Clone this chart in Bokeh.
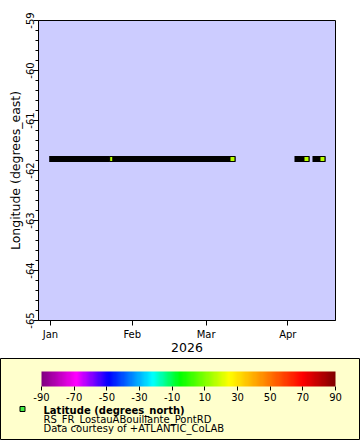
import numpy as np
import pandas as pd
from bokeh.plotting import figure
from bokeh.layouts import column
from bokeh.models import (Range1d, FixedTicker, ColumnDataSource,
                          LinearColorMapper, ColorBar)
from bokeh.transform import linear_cmap
from bokeh.core.properties import value
from bokeh.embed import file_html
from bokeh.resources import INLINE

FONT = "DejaVu Sans"

# ---- data ----
run_start = ["2026-01-01 15:30", "2026-01-25 13:00", "2026-04-04 16:00", "2026-04-11 11:45"]
run_end = ["2026-01-24 09:40", "2026-03-11 00:30", "2026-04-08 02:00", "2026-04-14 03:30"]
run_lon = [-61.77, -61.77, -61.77, -61.77]
run_lat = [16.2, 16.2, 16.2, 16.2]

x_start = "2025-12-27 10:50"
x_end = "2026-04-19 02:00"
y_lo, y_hi = -65, -59
y_ticks = [-65, -64, -63, -62, -61, -60, -59]
y_tick_labels = ["-65", "-64", "-63", "-62", "-61", "-60", "-59"]
y_minor = [-64.8, -64.6, -64.4, -64.2, -63.8, -63.6, -63.4, -63.2, -62.8, -62.6, -62.4, -62.2,
           -61.8, -61.6, -61.4, -61.2, -60.8, -60.6, -60.4, -60.2, -59.8, -59.6, -59.4, -59.2]
month_ticks = ["2026-01-01", "2026-02-01", "2026-03-01", "2026-04-01"]
month_labels = ["Jan", "Feb", "Mar", "Apr"]
x_title = "2026"
y_title = "Longitude (degrees_east)"
cbar_low, cbar_high = -90, 90
cbar_ticks = [-90, -70, -50, -30, -10, 10, 30, 50, 70, 90]
cbar_labels = ["-90", "-70", "-50", "-30", "-10", "10", "30", "50", "70", "90"]
legend_title = "Latitude (degrees_north)"
legend_lines = ["RS_FR_LostauABouillante_PontRD", "Data courtesy of +ATLANTIC_CoLAB"]

# ---- palette (Rainbow-like colour scale) ----
anchor_v = [-90, -69, -49, -22, -5, 25, 48, 70, 90]
anchor_c = ["#800080", "#ff00ff", "#0000ff", "#00ffff", "#00ff00", "#ffff00", "#ff8000", "#ff0000", "#800000"]
def _rgb(h):
    return [int(h[i:i + 2], 16) for i in (1, 3, 5)]
_ar = np.array([_rgb(c) for c in anchor_c], dtype=float)
_vs = np.linspace(cbar_low, cbar_high, 256)
palette = ["#%02x%02x%02x" % tuple(int(round(np.interp(v, anchor_v, _ar[:, k]))) for k in range(3)) for v in _vs]

# ---- main figure ----
W = 360
MAIN_H = 358
p = figure(width=W, height=MAIN_H, x_axis_type="datetime",
           x_range=Range1d(pd.Timestamp(x_start), pd.Timestamp(x_end)),
           y_range=Range1d(y_lo, y_hi),
           output_backend="svg", toolbar_location=None,
           min_border_left=38, min_border_right=25, min_border_top=20, min_border_bottom=38)
p.frame_align = False
p.background_fill_color = "#ccccff"
p.border_fill_color = "white"
p.outline_line_color = "black"
p.outline_line_width = 1
p.grid.visible = False

tick_ms = [float((pd.Timestamp(t) - pd.Timestamp("1970-01-01")) / pd.Timedelta(milliseconds=1)) for t in month_ticks]
p.xaxis.ticker = FixedTicker(ticks=tick_ms, minor_ticks=[])
p.xaxis.major_label_overrides = {t: l for t, l in zip(tick_ms, month_labels)}
p.yaxis.ticker = FixedTicker(ticks=y_ticks, minor_ticks=y_minor)
p.yaxis.major_label_overrides = {t: l for t, l in zip(y_ticks, y_tick_labels)}
p.yaxis.major_label_orientation = "vertical"

for ax in (p.xaxis[0], p.yaxis[0]):
    ax.axis_line_color = "black"
    ax.major_tick_line_color = "black"
    ax.minor_tick_line_color = "black"
    ax.major_tick_in = 0
    ax.major_tick_out = 5
    ax.minor_tick_in = 0
    ax.minor_tick_out = 3
    ax.major_label_text_font = FONT
    ax.major_label_text_font_size = "10px"
    ax.major_label_text_color = "black"
    ax.axis_label_text_font = FONT
    ax.axis_label_text_font_size = "12.5px"
    ax.axis_label_text_font_style = "normal"
    ax.axis_label_text_color = "black"
p.xaxis.minor_tick_line_color = None
p.xaxis.major_label_standoff = 3
p.xaxis.axis_label_standoff = 0
p.yaxis.major_label_standoff = 0
p.yaxis.axis_label_standoff = 0
p.xaxis.axis_label = x_title
p.yaxis.axis_label = y_title

lat_cmap = linear_cmap("lat", palette, cbar_low, cbar_high)
for s, e, lo, la in zip(run_start, run_end, run_lon, run_lat):
    src = ColumnDataSource(dict(x0=[pd.Timestamp(s)], x1=[pd.Timestamp(e)], y=[lo], lat=[la]))
    p.segment(x0="x0", y0="y", x1="x1", y1="y", source=src,
              line_color="black", line_width=6, line_cap="square")
    p.scatter(x="x1", y="y", source=src, marker="square", size=5,
              fill_color=lat_cmap, line_color="black", line_width=1)

# ---- legend panel ----
LH = 440 - MAIN_H
lg = figure(width=W, height=LH, x_range=Range1d(0, W), y_range=Range1d(LH, 0),
            x_axis_location=None, y_axis_location=None,
            output_backend="svg", toolbar_location=None, min_border=0)
lg.frame_align = False
lg.grid.visible = False
lg.background_fill_color = "#ffffcc"
lg.border_fill_color = "white"
lg.outline_line_color = "black"
lg.outline_line_width = 1

mapper = LinearColorMapper(palette=palette, low=cbar_low, high=cbar_high)
cb = ColorBar(color_mapper=mapper, ticker=FixedTicker(ticks=cbar_ticks),
              major_label_overrides={t: l for t, l in zip(cbar_ticks, cbar_labels)},
              orientation="horizontal", width=294, height=15, location=(41, 37),
              padding=0, margin=0, major_tick_in=0, major_tick_out=4,
              major_tick_line_color="black", minor_tick_line_color=None,
              major_label_text_font=FONT, major_label_text_font_size="10px",
              major_label_text_color="black", label_standoff=2,
              bar_line_color=None, border_line_color=None, background_fill_alpha=0)
lg.add_layout(cb)

lg.scatter(x=[22], y=[50.5], marker="square", size=5, fill_color="#44ee44",
           line_color="black", line_width=1)
lg.text(x=[43], y=[51.5], text=[legend_title], text_font=value(FONT), text_font_size="10px",
        text_font_style="bold", text_baseline="alphabetic", text_color="black")
lg.text(x=[43, 43], y=[61, 70], text=legend_lines, text_font=value(FONT), text_font_size="10px",
        text_baseline="alphabetic", text_color="black")

layout = column(p, lg, spacing=0)
open("out.html", "w").write(file_html(layout, INLINE))
